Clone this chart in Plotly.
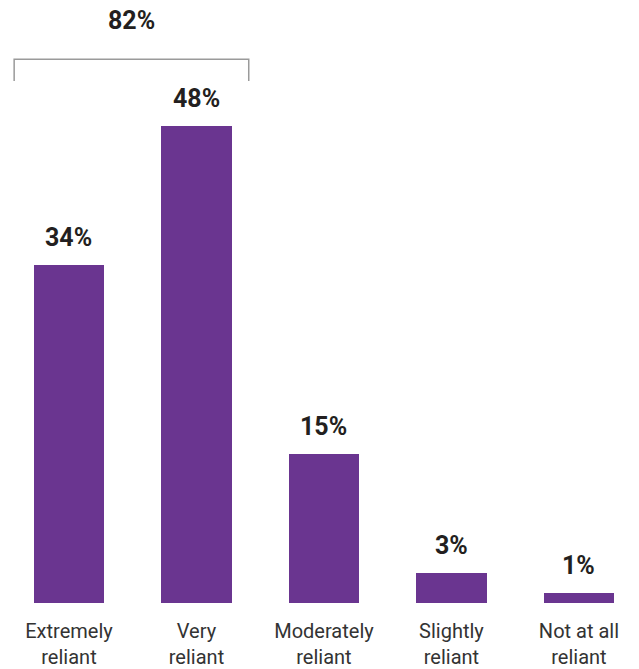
import plotly.graph_objects as go

# Survey responses: how reliant respondents are
categories = ["Extremely<br>reliant", "Very<br>reliant", "Moderately<br>reliant",
              "Slightly<br>reliant", "Not at all<br>reliant"]
values = [34, 48, 15, 3, 1]
value_labels = ["34%", "48%", "15%", "3%", "1%"]

BAR_COLOR = "#6a3590"
TEXT_COLOR = "#231f20"

x_pos = list(range(len(categories)))

fig = go.Figure()
fig.add_trace(go.Bar(
    x=x_pos, y=values, width=0.55,
    marker=dict(color=BAR_COLOR, line=dict(width=0)),
    hoverinfo="skip",
))

# Value labels above each bar
for xi, v, lab in zip(x_pos, values, value_labels):
    fig.add_annotation(x=xi, y=v, text=f"<b>{lab}</b>", showarrow=False,
                       yanchor="bottom", yshift=11,
                       font=dict(family="Roboto", size=25, color=TEXT_COLOR))

# Bracket combining the top two categories
combined = values[0] + values[1]
bx0, bx1 = x_pos[0] - 0.43, x_pos[1] + 0.41
by_top, by_bot = 54.7, 52.5
fig.add_shape(type="path",
              path=f"M {bx0} {by_bot} L {bx0} {by_top} L {bx1} {by_top} L {bx1} {by_bot}",
              line=dict(color="#9a9a9a", width=1.5), xref="x", yref="y")
fig.add_annotation(x=(bx0 + bx1) / 2, y=by_top, text=f"<b>{combined}%</b>",
                   showarrow=False, yanchor="bottom", yshift=22,
                   font=dict(family="Roboto", size=25, color=TEXT_COLOR))

fig.update_layout(
    width=639, height=669,
    margin=dict(l=0, r=0, t=0, b=66),
    plot_bgcolor="white", paper_bgcolor="white",
    showlegend=False,
    bargap=0,
)
fig.update_xaxes(
    tickmode="array", tickvals=x_pos, ticktext=categories,
    range=[-0.541, 4.471],
    showgrid=False, zeroline=False, showline=False, ticks="",
    tickfont=dict(family="Roboto", size=20, color="#333333"),
    ticklabelstandoff=14,
)
fig.update_yaxes(range=[0, 60.65], visible=False, showgrid=False, zeroline=False)

fig.write_html("out.html")
